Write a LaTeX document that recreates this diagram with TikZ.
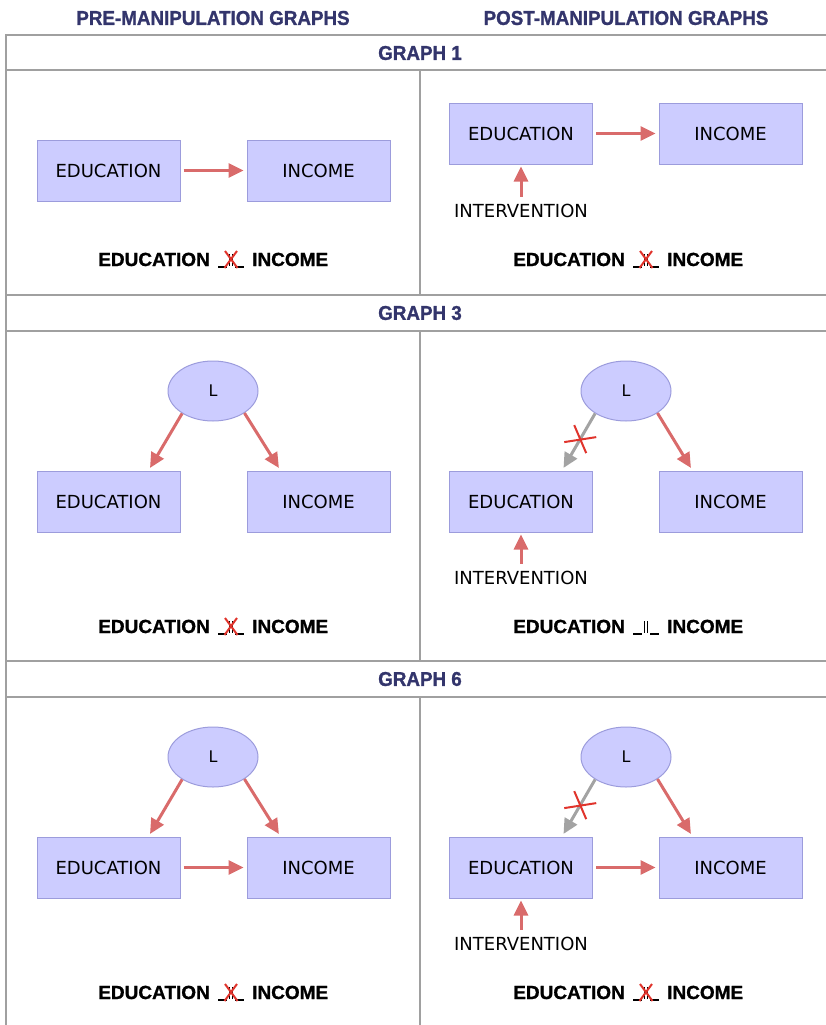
\documentclass[tikz,border=0pt]{standalone}
\usepackage{fontspec}
\setmainfont{DejaVu Sans}
\newfontfamily\headfont{Liberation Sans Bold}[FakeBold=1.2, FakeStretch=0.94]
\newfontfamily\stmtfont{Liberation Sans Bold}[FakeBold=1.0]
\usetikzlibrary{arrows.meta,shapes.geometric}

\definecolor{navy}{HTML}{33356C}
\definecolor{boxfill}{HTML}{CCCCFF}
\definecolor{boxline}{HTML}{9C9CDC}
\definecolor{arrowred}{HTML}{D96B6B}
\definecolor{arrowgray}{HTML}{A3A3A3}
\definecolor{crossred}{HTML}{E0342C}
\definecolor{rulegray}{HTML}{A0A0A0}

\tikzset{
  varbox/.style={draw=boxline, fill=boxfill, line width=1pt,
    minimum width=143pt, minimum height=61pt, inner sep=0pt,
    font=\fontsize{18}{20}\selectfont},
  latent/.style={ellipse, draw=boxline, fill=boxfill, line width=1pt,
    minimum width=90pt, minimum height=60pt, inner sep=0pt,
    font=\fontsize{16}{18}\selectfont},
  causal/.style={draw=arrowred, line width=3pt,
    -{Triangle[length=15pt,width=14pt]}},
  severed/.style={draw=arrowgray, line width=3pt,
    -{Triangle[length=15pt,width=14pt]}},
  crossmark/.style={draw=crossred, line width=2pt},
  plainlabel/.style={inner sep=0pt, font=\fontsize{18}{20}\selectfont},
  heading/.style={inner sep=0pt, text=navy,
    font=\headfont\fontsize{20}{22}\selectfont},
  stmt/.style={inner sep=0pt, font=\stmtfont\fontsize{19}{21}\selectfont},
  tablerule/.style={draw=rulegray, line width=1.6pt},
  symline/.style={draw=black, line width=1.2pt},
}

% independence sign: #1 = centre x, #2 = baseline y
\newcommand\indepsign[2]{%
  \draw[symline] ({#1-13},{#2+1}) -- ({#1-4},{#2+1});
  \draw[symline] ({#1+4},{#2+1}) -- ({#1+13},{#2+1});
  \draw[symline] ({#1-1.6},{#2-12}) -- ({#1-1.6},{#2});
  \draw[symline] ({#1+1.6},{#2-12}) -- ({#1+1.6},{#2});
}
\newcommand\crosssign[2]{%
  \draw[crossmark] ({#1-6},{#2-15}) -- ({#1+6.5},{#2+2});
  \draw[crossmark] ({#1+6},{#2-15}) -- ({#1-6.5},{#2+2});
}
% cut mark across a severed edge, centred on a named coordinate
\newcommand\cutmark[1]{%
  \draw[crossmark] ([shift={(-6pt,14pt)}]#1) -- ([shift={(6pt,-14pt)}]#1);
  \draw[crossmark] ([shift={(-16pt,-3pt)}]#1) -- ([shift={(16pt,2pt)}]#1);
}

\begin{document}
\begin{tikzpicture}[x=1pt, y=-1pt]
\useasboundingbox (0,0) rectangle (825,1025);

% column headings
\node[heading] (hpre)  at (213,18) {PRE-MANIPULATION GRAPHS};
\node[heading] (hpost) at (626,18) {POST-MANIPULATION GRAPHS};

% table frame
\draw[tablerule] (6,1025) -- (6,35) -- (826,35);
\foreach \yy in {70,295,331,661,697}
  \draw[tablerule] (6,\yy) -- (826,\yy);
\draw[tablerule] (420,70) -- (420,295);
\draw[tablerule] (420,331) -- (420,661);
\draw[tablerule] (420,697) -- (420,1025);

\node[heading] (g1) at (420,53)  {GRAPH 1};
\node[heading] (g3) at (420,313) {GRAPH 3};
\node[heading] (g6) at (420,679) {GRAPH 6};

% ---------- GRAPH 1 ----------
\node[varbox] (edu1) at (108.5,170.5) {EDUCATION};
\node[varbox] (inc1) at (318.5,170.5) {INCOME};
\draw[causal, shorten <=3pt, shorten >=3pt] (edu1) -- (inc1);

\node[varbox] (edu1p) at (521,133.5) {EDUCATION};
\node[varbox] (inc1p) at (730.5,133.5) {INCOME};
\draw[causal, shorten <=3pt, shorten >=3pt] (edu1p) -- (inc1p);
\node[plainlabel] (iv1) at (521,211) {INTERVENTION};
\draw[causal, shorten <=7pt, shorten >=2pt] (iv1.north) -- (edu1p.south);

\node[stmt, anchor=base east] (s1a) at (210,266) {EDUCATION};
\node[stmt, anchor=base west] (s1b) at (252,266) {INCOME};
\indepsign{231}{266}\crosssign{231}{266}
\node[stmt, anchor=base east] (s1c) at (625,266) {EDUCATION};
\node[stmt, anchor=base west] (s1d) at (667,266) {INCOME};
\indepsign{646}{266}\crosssign{646}{266}

% ---------- GRAPH 3 ----------
\node[latent] (l3) at (213,391) {L};
\node[varbox] (edu3) at (108.5,501.5) {EDUCATION};
\node[varbox] (inc3) at (318.5,501.5) {INCOME};
\draw[causal, shorten >=3pt] (l3.216) -- ([xshift=40pt]edu3.north);
\draw[causal, shorten >=3pt] (l3.325) -- ([xshift=-38pt]inc3.north);

\node[latent] (l3p) at (626,391) {L};
\node[varbox] (edu3p) at (521,501.5) {EDUCATION};
\node[varbox] (inc3p) at (730.5,501.5) {INCOME};
\draw[severed, shorten >=3pt] (l3p.216) -- coordinate[pos=0.45] (cut3) ([xshift=41pt]edu3p.north);
\cutmark{cut3}
\draw[causal, shorten >=3pt] (l3p.325) -- ([xshift=-38pt]inc3p.north);
\node[plainlabel] (iv3) at (521,578) {INTERVENTION};
\draw[causal, shorten <=7pt, shorten >=2pt] (iv3.north) -- (edu3p.south);

\node[stmt, anchor=base east] (s3a) at (210,633) {EDUCATION};
\node[stmt, anchor=base west] (s3b) at (252,633) {INCOME};
\indepsign{231}{633}\crosssign{231}{633}
\node[stmt, anchor=base east] (s3c) at (625,633) {EDUCATION};
\node[stmt, anchor=base west] (s3d) at (667,633) {INCOME};
\indepsign{646}{633}

% ---------- GRAPH 6 ----------
\node[latent] (l6) at (213,757) {L};
\node[varbox] (edu6) at (108.5,867.5) {EDUCATION};
\node[varbox] (inc6) at (318.5,867.5) {INCOME};
\draw[causal, shorten >=3pt] (l6.216) -- ([xshift=40pt]edu6.north);
\draw[causal, shorten >=3pt] (l6.325) -- ([xshift=-38pt]inc6.north);
\draw[causal, shorten <=3pt, shorten >=3pt] (edu6) -- (inc6);

\node[latent] (l6p) at (626,757) {L};
\node[varbox] (edu6p) at (521,867.5) {EDUCATION};
\node[varbox] (inc6p) at (730.5,867.5) {INCOME};
\draw[severed, shorten >=3pt] (l6p.216) -- coordinate[pos=0.45] (cut6) ([xshift=41pt]edu6p.north);
\cutmark{cut6}
\draw[causal, shorten >=3pt] (l6p.325) -- ([xshift=-38pt]inc6p.north);
\draw[causal, shorten <=3pt, shorten >=3pt] (edu6p) -- (inc6p);
\node[plainlabel] (iv6) at (521,944) {INTERVENTION};
\draw[causal, shorten <=7pt, shorten >=2pt] (iv6.north) -- (edu6p.south);

\node[stmt, anchor=base east] (s6a) at (210,999) {EDUCATION};
\node[stmt, anchor=base west] (s6b) at (252,999) {INCOME};
\indepsign{231}{999}\crosssign{231}{999}
\node[stmt, anchor=base east] (s6c) at (625,999) {EDUCATION};
\node[stmt, anchor=base west] (s6d) at (667,999) {INCOME};
\indepsign{646}{999}\crosssign{646}{999}

\end{tikzpicture}
\end{document}
